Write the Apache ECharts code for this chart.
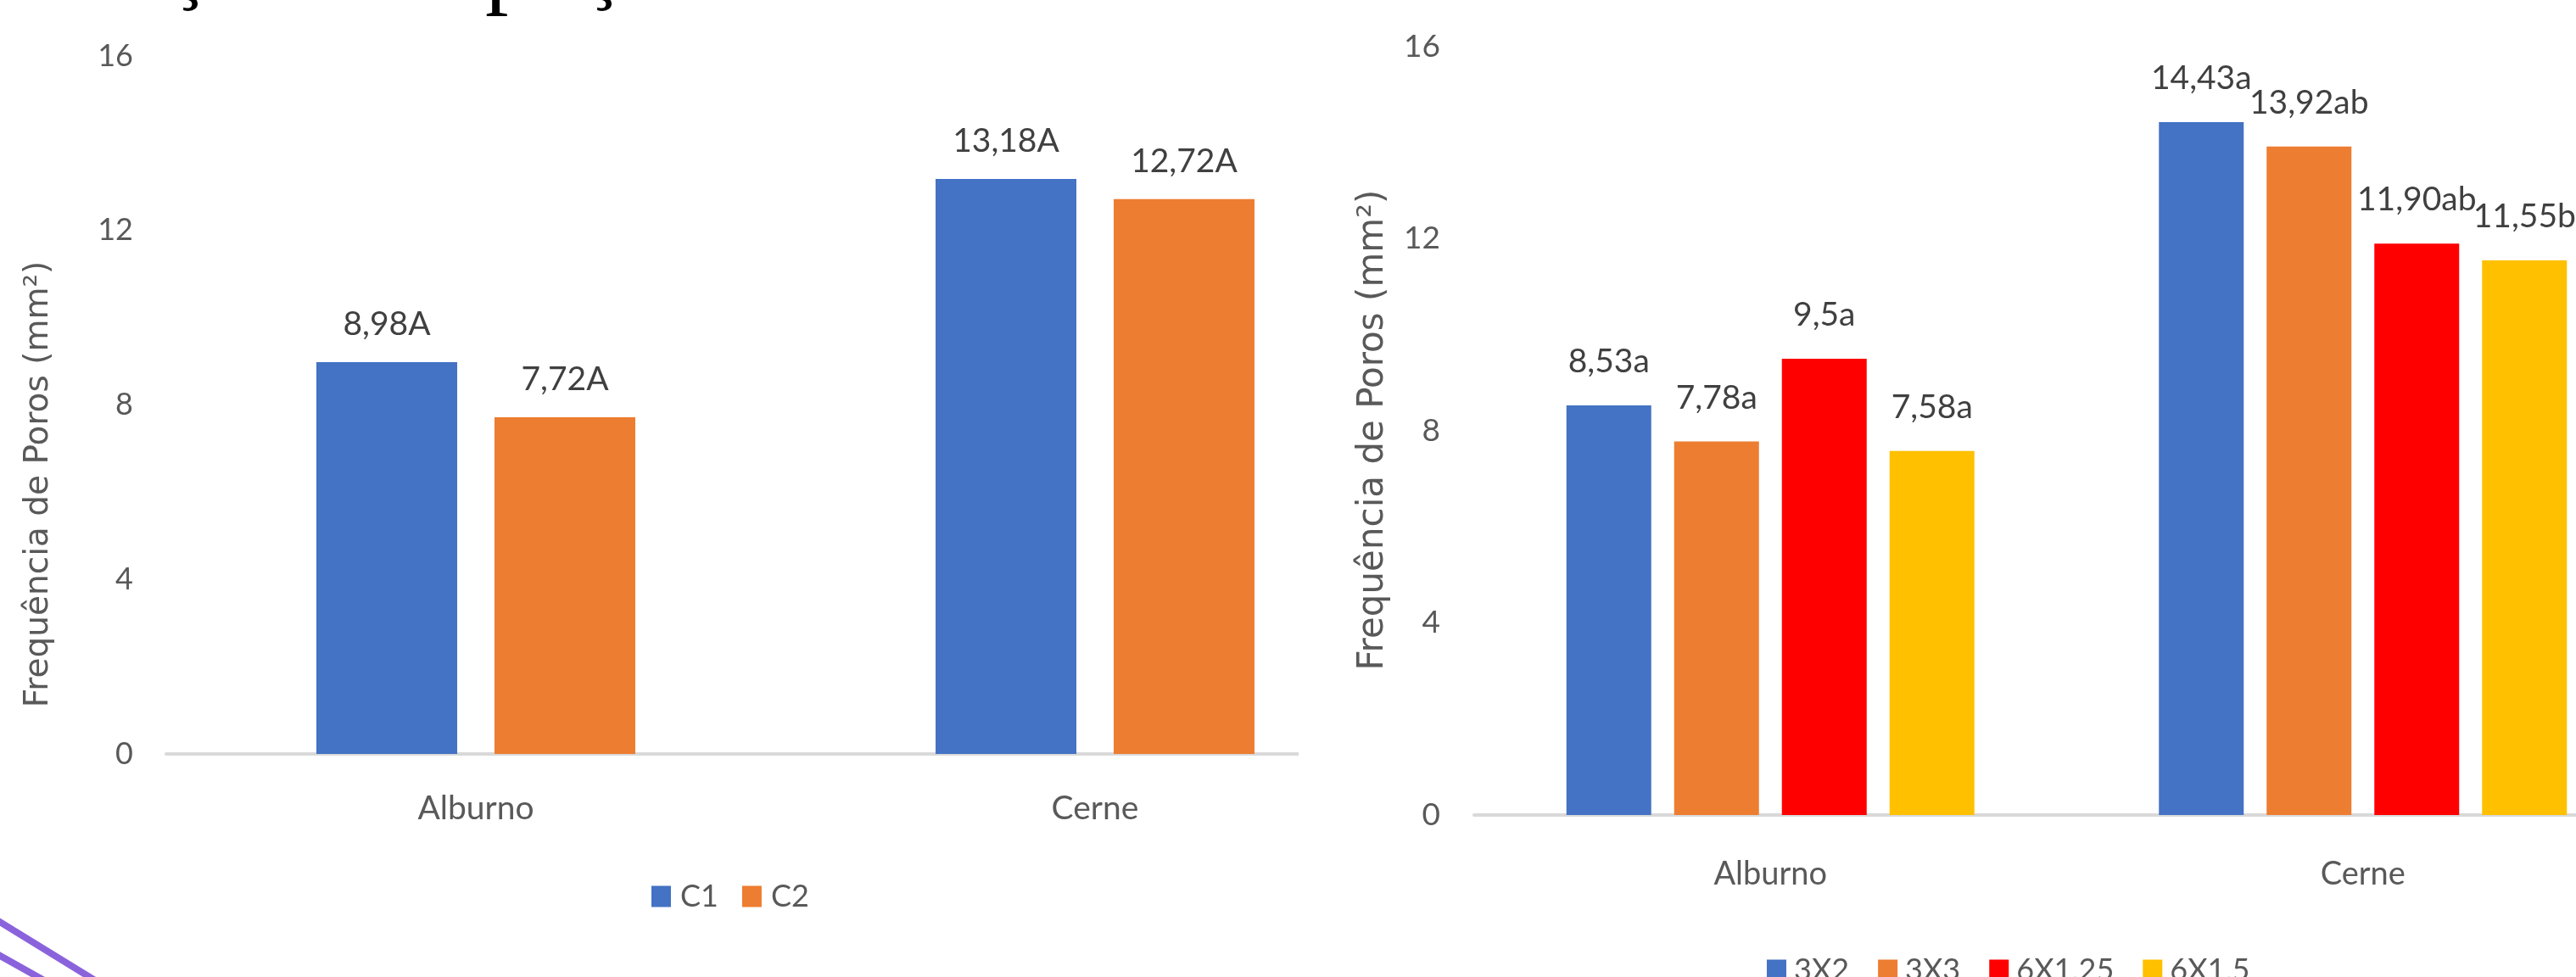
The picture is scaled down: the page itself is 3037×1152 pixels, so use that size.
<!DOCTYPE html>
<html>
<head>
<meta charset="utf-8">
<script src="https://cdn.jsdelivr.net/npm/echarts@6/dist/echarts.min.js"></script>
<style>
  html, body { margin: 0; padding: 0; background: #ffffff; overflow: hidden; width: 3037px; height: 1152px; }
  #wrap { position: relative; width: 3037px; height: 1152px; overflow: hidden; }
  #left { position: absolute; left: 0; top: 0; width: 1706px; height: 1152px; }
  #right { position: absolute; left: 1531px; top: 0; width: 1700px; height: 1152px; background: #ffffff; }
</style>
</head>
<body>
<div id="wrap">
  <div id="left"></div>
  <div id="right"></div>
</div>
<script>
// ---- data ----
const categories = ['Alburno', 'Cerne'];

const leftSeriesNames = ['C1', 'C2'];
const c1Values = [8.98, 13.18];
const c2Values = [7.72, 12.72];
const c1Labels = ['8,98A', '13,18A'];
const c2Labels = ['7,72A', '12,72A'];

const rightSeriesNames = ['3X2', '3X3', '6X1,25', '6X1,5'];
const v3x2 = [8.53, 14.43];
const v3x3 = [7.78, 13.92];
const v6x125 = [9.5, 11.90];
const v6x15 = [7.58, 11.55];
const l3x2 = ['8,53a', '14,43a'];
const l3x3 = ['7,78a', '13,92ab'];
const l6x125 = ['9,5a', '11,90ab'];
const l6x15 = ['7,58a', '11,55b'];

const yMin = 0, yMax = 16, yInterval = 4;
const yTitle = 'Frequência de Poros (mm²)';

// ---- styles ----
const FONT = 'Lato';
const leftColors = ['#4472C4', '#ED7D31'];
const rightColors = ['#4472C4', '#ED7D31', '#FF0000', '#FFC000'];
const grey = '#595959';
const dark = '#404040';

function yAxisCfg(fontSize, margin) {
  return {
    type: 'value', min: yMin, max: yMax, interval: yInterval,
    axisLine: { show: false }, axisTick: { show: false }, splitLine: { show: false },
    axisLabel: { fontFamily: FONT, fontSize: fontSize, color: grey, margin: margin }
  };
}
function xAxisCfg(fontSize, margin) {
  return {
    type: 'category', data: categories,
    axisLine: { show: true, lineStyle: { color: '#D9D9D9', width: 4 } },
    axisTick: { show: false },
    axisLabel: { fontFamily: FONT, fontSize: fontSize, color: grey, margin: margin }
  };
}
function barSeries(name, values, labels, color, barWidth, barGap, fontSize, dist) {
  return {
    type: 'bar', name: name, data: values,
    barWidth: barWidth, barGap: barGap,
    itemStyle: { color: color },
    label: {
      show: true, position: 'top', distance: dist,
      fontFamily: FONT, fontSize: fontSize, color: dark,
      formatter: function (p) { return labels[p.dataIndex]; }
    },
    emphasis: { disabled: true }
  };
}

// ---- left chart ----
const leftChart = echarts.init(document.getElementById('left'), null, { renderer: 'canvas' });
leftChart.setOption({
  animation: false,
  backgroundColor: '#ffffff',
  grid: { left: 196, top: 66, width: 1460, height: 823 },
  xAxis: xAxisCfg(39, 45),
  yAxis: yAxisCfg(36, 39),
  legend: {
    data: leftSeriesNames, left: 763, top: 1034, orient: 'horizontal',
    icon: 'rect', itemWidth: 23, itemHeight: 25, itemGap: 28,
    textStyle: { fontFamily: FONT, fontSize: 36, color: grey, padding: [0, 0, 0, 6] }
  },
  series: [
    barSeries(leftSeriesNames[0], c1Values, c1Labels, leftColors[0], 166, '26.5%', 39, 25),
    barSeries(leftSeriesNames[1], c2Values, c2Labels, leftColors[1], 166, '26.5%', 39, 25)
  ],
  graphic: [
    { type: 'text', z: 50, x: 46, y: 571, rotation: Math.PI / 2,
      style: { text: yTitle, fontFamily: 'DejaVu Sans', fontSize: 39, fill: grey, align: 'center', verticalAlign: 'middle' } },
    // cut-off document text at the very top
    { type: 'text', z: 50, x: 202, y: 15,
      style: { text: 'ç', fontFamily: 'Liberation Serif', fontSize: 90, fill: '#000000', align: 'left', verticalAlign: 'bottom' } },
    { type: 'text', z: 50, x: 572, y: 22,
      style: { text: 'p', fontFamily: 'Liberation Serif', fontSize: 110, fill: '#000000', align: 'left', verticalAlign: 'bottom' } },
    { type: 'text', z: 50, x: 690, y: 15,
      style: { text: 'ç', fontFamily: 'Liberation Serif', fontSize: 90, fill: '#000000', align: 'left', verticalAlign: 'bottom' } },
    // purple logo fragment bottom-left
    { type: 'line', z: 50, shape: { x1: -5, y1: 1084, x2: 112, y2: 1156 }, style: { stroke: '#8A63DC', lineWidth: 8 } },
    { type: 'line', z: 50, shape: { x1: -5, y1: 1124, x2: 52, y2: 1156 }, style: { stroke: '#8A63DC', lineWidth: 8 } }
  ]
});

// ---- right chart (extends beyond the page on the right, as in the reference) ----
const rightChart = echarts.init(document.getElementById('right'), null, { renderer: 'canvas' });
rightChart.setOption({
  animation: false,
  backgroundColor: '#ffffff',
  grid: { left: 207, top: 55, width: 1397, height: 906 },
  xAxis: xAxisCfg(38, 51),
  yAxis: yAxisCfg(37, 40),
  legend: {
    data: rightSeriesNames, left: 547, top: 1121, orient: 'horizontal',
    icon: 'rect', itemWidth: 23, itemHeight: 25, itemGap: 34,
    textStyle: { fontFamily: FONT, fontSize: 36, color: grey, padding: [0, 0, 0, 4] }
  },
  series: [
    barSeries(rightSeriesNames[0], v3x2, l3x2, rightColors[0], 100, '27%', 39, 32),
    barSeries(rightSeriesNames[1], v3x3, l3x3, rightColors[1], 100, '27%', 39, 32),
    barSeries(rightSeriesNames[2], v6x125, l6x125, rightColors[2], 100, '27%', 39, 32),
    barSeries(rightSeriesNames[3], v6x15, l6x15, rightColors[3], 100, '27%', 39, 32)
  ],
  graphic: [
    { type: 'text', z: 50, x: 88, y: 507, rotation: Math.PI / 2,
      style: { text: yTitle, fontFamily: 'DejaVu Sans', fontSize: 42, fill: grey, align: 'center', verticalAlign: 'middle' } }
  ]
});
</script>
</body>
</html>
